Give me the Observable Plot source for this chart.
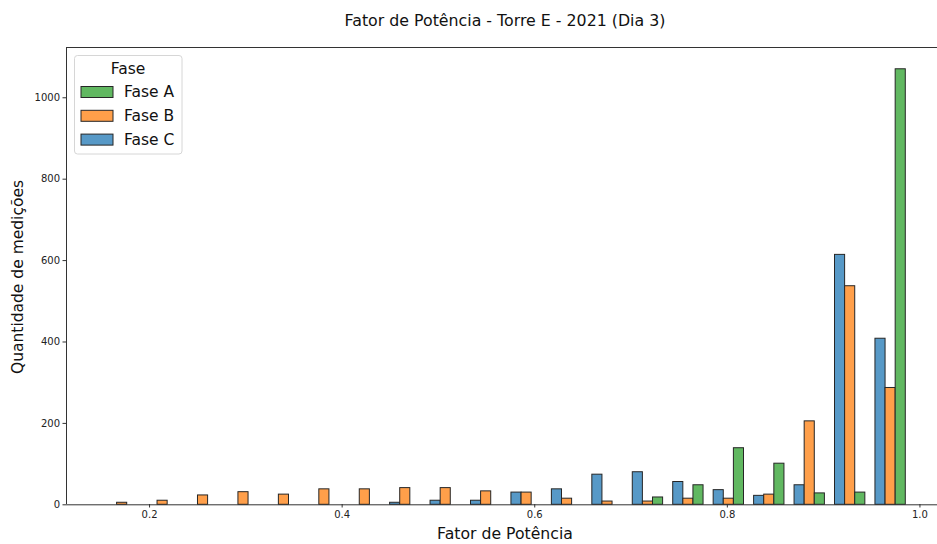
<!DOCTYPE html>
<html><head><meta charset="utf-8">
<script src="https://cdn.jsdelivr.net/npm/d3@7"></script>
<script src="https://cdn.jsdelivr.net/npm/@observablehq/plot@0.6"></script>
<style>
html,body{margin:0;padding:0;background:#fff;overflow:hidden}
#chart svg{display:block;overflow:hidden}
</style>
</head><body><div id="chart"></div>
<script>
// Bin edges of the histogram (20 bins)
const binEdges = [0.1558, 0.1978, 0.2398, 0.2818, 0.3238, 0.3658, 0.4078, 0.4498, 0.4918, 0.5338,
                  0.5758, 0.6178, 0.6598, 0.7018, 0.7438, 0.7858, 0.8278, 0.8698, 0.9118, 0.9538, 0.9958];
// Counts per bin for each phase
const faseA = [0, 0, 0, 0, 0, 0, 0, 0, 0, 0, 0, 0, 0, 18, 48, 139, 101, 28, 30, 1070];
const faseB = [5, 10, 23, 31, 25, 38, 38, 41, 41, 33, 30, 15, 8, 8, 15, 15, 25, 205, 537, 287];
const faseC = [0, 0, 0, 0, 0, 0, 0, 5, 10, 10, 30, 38, 74, 80, 56, 36, 22, 48, 614, 408];

const phases = ["Fase A", "Fase B", "Fase C"];
const phaseColors = ["#61b861", "#ff9f4a", "#5799c7"];
const dodgeOrder = ["Fase C", "Fase B", "Fase A"]; // left to right inside a bin
const xTicks = [0.2, 0.4, 0.6, 0.8, 1.0];
const yTicks = [0, 200, 400, 600, 800, 1000];

const titleText = "Fator de Potência - Torre E - 2021 (Dia 3)";
const xLabel = "Fator de Potência";
const yLabel = "Quantidade de medições";
const legendTitle = "Fase";

const series = {"Fase A": faseA, "Fase B": faseB, "Fase C": faseC};
const rows = [];
for (let i = 0; i < binEdges.length - 1; i++) {
  const w = (binEdges[i + 1] - binEdges[i]) / 4;
  dodgeOrder.forEach((p, s) => {
    const v = series[p][i];
    if (v > 0) rows.push({fase: p, x1: binEdges[i] + s * w, x2: binEdges[i] + (s + 1) * w, count: v});
  });
}

const xDomain = [0.11376, 1.03776];
const yTop = 1123.5;
const spine = "#333333";

const chart = Plot.plot({
  width: 937, height: 544,
  marginLeft: 66, marginTop: 47, marginBottom: 40, marginRight: 0,
  style: {fontFamily: "DejaVu Sans", fontSize: "10px", color: "#222", background: "#fff", overflow: "hidden"},
  x: {domain: xDomain, range: [66, 955.8]},
  y: {domain: [0, yTop], range: [504.3, 47]},
  color: {domain: phases, range: phaseColors},
  marks: [
    Plot.rectY(rows, {x1: "x1", x2: "x2", y1: 0, y2: "count", fill: "fase", stroke: "#262626", strokeWidth: 1}),
    Plot.ruleY([0], {stroke: spine, strokeWidth: 1}),
    Plot.ruleY([yTop], {stroke: spine, strokeWidth: 1}),
    Plot.ruleX([xDomain[0]], {stroke: spine, strokeWidth: 1}),
    Plot.axisX({ticks: xTicks, tickFormat: d => d.toFixed(1), tickSize: 3.5, tickPadding: 3, label: null, stroke: spine}),
    Plot.axisY({ticks: yTicks, tickFormat: d => String(d), tickSize: 3.5, tickPadding: 3, label: null, stroke: spine})
  ]
});
document.getElementById("chart").appendChild(chart);

const svg = d3.select(chart);
const font = "DejaVu Sans";
svg.append("text").attr("x", 505).attr("y", 20).attr("text-anchor", "middle").attr("dominant-baseline", "central")
  .attr("font-family", font).attr("font-size", 15.8).attr("fill", "#111").text(titleText);
svg.append("text").attr("x", 505).attr("y", 533).attr("text-anchor", "middle").attr("dominant-baseline", "central")
  .attr("font-family", font).attr("font-size", 15.7).attr("fill", "#111").text(xLabel);
svg.append("text").attr("transform", "translate(18,277) rotate(-90)").attr("text-anchor", "middle").attr("dominant-baseline", "central")
  .attr("font-family", font).attr("font-size", 15.5).attr("fill", "#111").text(yLabel);

// Legend
const lg = svg.append("g");
lg.append("rect").attr("x", 74.5).attr("y", 55.5).attr("width", 107.5).attr("height", 98.5).attr("rx", 3)
  .attr("fill", "#fff").attr("fill-opacity", 0.8).attr("stroke", "#d6d6d6");
lg.append("text").attr("x", 128).attr("y", 68.5).attr("text-anchor", "middle").attr("dominant-baseline", "central")
  .attr("font-family", font).attr("font-size", 15.5).attr("fill", "#111").text(legendTitle);
phases.forEach((p, i) => {
  const cy = 92 + i * 23.8;
  lg.append("rect").attr("x", 81).attr("y", cy - 5.5).attr("width", 32).attr("height", 11)
    .attr("fill", phaseColors[i]).attr("stroke", "#262626").attr("stroke-width", 1);
  lg.append("text").attr("x", 124).attr("y", cy).attr("text-anchor", "start").attr("dominant-baseline", "central")
    .attr("font-family", font).attr("font-size", 15.5).attr("fill", "#111").text(p);
});
</script>
</body></html>
